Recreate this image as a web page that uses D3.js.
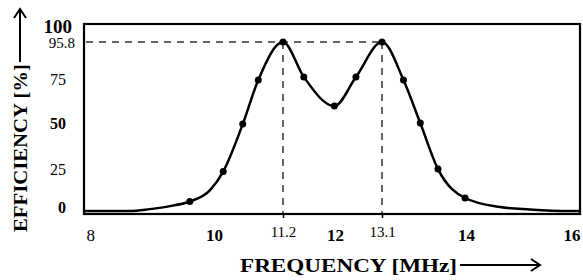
<!DOCTYPE html>
<html>
<head>
<meta charset="utf-8">
<script src="https://cdn.jsdelivr.net/npm/d3@7"></script>
<style>
  body { margin: 0; background: #fff; }
  svg text { font-family: "Liberation Serif", "Times New Roman", serif; fill: #000; }
</style>
</head>
<body>
<div id="chart"></div>
<script>
var width = 583, height = 280;
var margin = {top: 23, right: 2, bottom: 67, left: 83};

// curve through the measured points
var lineFreq = [8.0, 8.72, 9.02, 9.33, 9.63, 9.94, 10.16, 10.5, 10.77, 11.2, 11.52, 11.99,
  12.49, 13.1, 13.33, 13.51, 13.7, 13.99, 14.59, 15.11, 15.81, 16.0];
var lineEff = [0, 0, 1.1, 2.8, 5.4, 11.9, 22.4, 49.3, 74.3, 95.8, 76.0, 59.5,
  76.0, 95.8, 74.3, 49.9, 23.8, 7.4, 2.3, 0.9, 0, 0];

// measured points (dots)
var dotFreq = [9.63, 10.16, 10.5, 10.77, 11.2, 11.52, 11.99, 12.49, 13.1, 13.33, 13.51, 13.7, 13.99];
var dotEff = [5.4, 22.4, 49.3, 74.3, 95.8, 76.0, 59.5, 76.0, 95.8, 74.3, 49.9, 23.8, 7.4];

// tick labels
var xTicks = [8, 10, 12, 14, 16];
var xPeaks = [11.2, 13.1];
var yTicks = [0, 25, 50, 75, 95.8];
var yTop = 100;
var peakEff = 95.8;

var svg = d3.select("#chart")
  .append("svg")
  .attr("width", width)
  .attr("height", height);

// x positions of the printed labels are not evenly spaced in the figure
var xScale = d3.scaleLinear()
  .domain([8, 10, 11.2, 12, 13.1, 14, 16])
  .range([83, 214, 283, 335, 382, 466, 581]);

var yScale = d3.scaleLinear()
  .domain([-1.1, 106.6])
  .range([height - margin.bottom - 0, margin.top]);

var x0 = margin.left, x1 = width - margin.right;
var yB = height - margin.bottom;

// dashed guide lines
svg.append("line")
  .attr("x1", x0 + 3).attr("x2", xScale(xPeaks[1]))
  .attr("y1", yScale(peakEff)).attr("y2", yScale(peakEff))
  .attr("stroke", "#333").attr("stroke-width", 1.5)
  .attr("stroke-dasharray", "7,6");

svg.selectAll(".vguide")
  .data(xPeaks)
  .enter()
  .append("line")
  .attr("class", "vguide")
  .attr("x1", d => xScale(d)).attr("x2", d => xScale(d))
  .attr("y1", yScale(peakEff)).attr("y2", yB)
  .attr("stroke", "#333").attr("stroke-width", 1.5)
  .attr("stroke-dasharray", "7,6");

// curve
var pts = lineFreq.map((f, i) => [f, lineEff[i]]);
var line = d3.line()
  .x(d => xScale(d[0]))
  .y(d => yScale(d[1]))
  .curve(d3.curveMonotoneX);

svg.append("path")
  .datum(pts)
  .attr("d", line)
  .attr("fill", "none")
  .attr("stroke", "#000")
  .attr("stroke-width", 2.5);

svg.selectAll(".dot")
  .data(dotFreq.map((f, i) => [f, dotEff[i]]))
  .enter()
  .append("circle")
  .attr("class", "dot")
  .attr("cx", d => xScale(d[0]))
  .attr("cy", d => yScale(d[1]))
  .attr("r", 3.5)
  .attr("fill", "#000");

// frame
svg.append("rect")
  .attr("x", x0 + 1).attr("y", margin.top + 1)
  .attr("width", x1 - x0 - 2).attr("height", yB - margin.top)
  .attr("fill", "none")
  .attr("stroke", "#000")
  .attr("stroke-width", 2.2);

// x axis, main labels
var xAxis = d3.axisBottom(xScale)
  .tickValues(xTicks)
  .tickSize(0)
  .tickPadding(16)
  .tickFormat(d3.format("d"));

var gx = svg.append("g")
  .attr("transform", `translate(0, ${yB})`)
  .call(xAxis);
gx.select(".domain").remove();
gx.selectAll("text")
  .attr("font-size", "17px")
  .attr("font-weight", d => d === 8 ? "normal" : "bold")
  .attr("text-anchor", d => d === 8 ? "start" : d === 16 ? "end" : "middle")
  .attr("x", d => d === 8 ? 3 : d === 16 ? -1 : 0);

// x axis, peak frequencies
var xAxisPeaks = d3.axisBottom(xScale)
  .tickValues(xPeaks)
  .tickSize(5)
  .tickPadding(8)
  .tickFormat(d3.format(".1f"));

var gp = svg.append("g")
  .attr("transform", `translate(0, ${yB})`)
  .call(xAxisPeaks);
gp.select(".domain").remove();
gp.selectAll("line").attr("stroke", "#000").attr("stroke-width", 1.5);
gp.selectAll("text")
  .attr("font-size", "15px");

// y axis
var yAxis = d3.axisLeft(yScale)
  .tickValues(yTicks)
  .tickSize(0)
  .tickFormat(d => d === peakEff ? "95.8" : d3.format("d")(d));

var gy = svg.append("g")
  .attr("transform", `translate(${x0}, 0)`)
  .call(yAxis);
gy.select(".domain").remove();
gy.selectAll("text")
  .attr("font-size", d => d === peakEff ? "15px" : "16px")
  .attr("font-weight", d => (d === 0 || d === 50) ? "bold" : "normal")
  .attr("x", d => d === peakEff ? -8 : -17)
  .attr("dy", d => d === 0 ? "0.1em" : d === 25 ? "0.45em" : "0.38em");

svg.append("text")
  .attr("x", x0 - 11)
  .attr("y", yScale(yTop) - 2)
  .attr("text-anchor", "end")
  .attr("font-size", "19px")
  .attr("font-weight", "bold")
  .text(d3.format("d")(yTop));

// axis titles with arrows
svg.append("text")
  .attr("x", 240)
  .attr("y", 272)
  .attr("font-size", "19px")
  .attr("font-weight", "bold")
  .attr("textLength", 217)
  .attr("lengthAdjust", "spacingAndGlyphs")
  .text("FREQUENCY [MHz]");

svg.append("path")
  .attr("d", "M460,265H540M531,259L540,265L531,271")
  .attr("fill", "none")
  .attr("stroke", "#000")
  .attr("stroke-width", 2);

svg.append("text")
  .attr("transform", "translate(27, 232) rotate(-90)")
  .attr("font-size", "19px")
  .attr("font-weight", "bold")
  .attr("textLength", 168)
  .attr("lengthAdjust", "spacingAndGlyphs")
  .text("EFFICIENCY [%]");

svg.append("path")
  .attr("d", "M20,62V9M14,18L20,9L26,18")
  .attr("fill", "none")
  .attr("stroke", "#000")
  .attr("stroke-width", 2);
</script>
</body>
</html>
